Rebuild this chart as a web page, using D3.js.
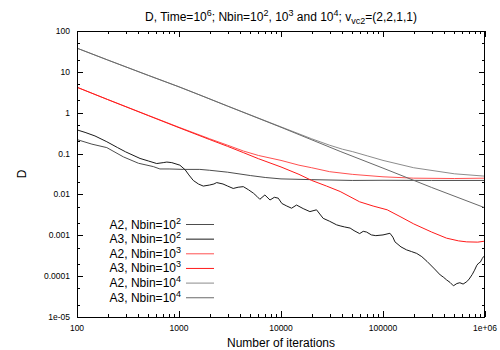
<!DOCTYPE html>
<html><head><meta charset="utf-8">
<script src="https://cdn.jsdelivr.net/npm/d3@7"></script>
<style>body{margin:0;background:#fff}svg{display:block}text{font-family:"Liberation Sans",Arial,sans-serif}</style>
</head><body><svg id="c" width="500" height="350"></svg>
<script>
// ---- data (iterations, D) ----
const xTickValues = [100, 1000, 10000, 100000, 1000000];
const xTickLabels = ["100", "1000", "10000", "100000", "1e+06"];
const yTickValues = [1e-5, 1e-4, 1e-3, 1e-2, 1e-1, 1, 10, 100];
const yTickLabels = ["1e-05", "0.0001", "0.001", "0.01", "0.1", "1", "10", "100"];

const a2n2 = [[100,0.22],[140,0.17],[196,0.14],[285,0.083],[400,0.058],[560,0.048],[650,0.042],[800,0.042],[1100,0.041],[1600,0.041],[2000,0.039],[3000,0.035],[5000,0.029],[7000,0.026],[10000,0.024],[20000,0.023],[50000,0.022],[100000,0.0222],[300000,0.022],[1000000,0.022]];
const a3n2 = [[100,0.38],[120,0.33],[150,0.27],[196,0.195],[250,0.14],[300,0.11],[415,0.076],[500,0.066],[605,0.057],[700,0.06],[760,0.062],[850,0.06],[1020,0.052],[1150,0.040],[1250,0.03],[1380,0.022],[1550,0.018],[1730,0.016],[2000,0.017],[2200,0.018],[2340,0.0195],[2700,0.018],[3000,0.016],[3400,0.014],[3800,0.015],[4270,0.0155],[4800,0.013],[5370,0.0107],[5800,0.009],[6200,0.0076],[6950,0.0097],[7800,0.0073],[8600,0.0085],[9400,0.0081],[10200,0.006],[11400,0.0052],[12700,0.0046],[14200,0.0055],[16500,0.0045],[19200,0.0038],[22300,0.0042],[25900,0.0026],[30000,0.0022],[35100,0.0018],[38000,0.0017],[42000,0.0016],[47600,0.0015],[52000,0.0013],[59000,0.0011],[64000,0.00125],[69000,0.0012],[77000,0.00102],[85000,0.00098],[100000,0.00102],[117000,0.00112],[125000,0.0009],[131000,0.00069],[150000,0.00052],[170000,0.00044],[190000,0.0004],[214000,0.00036],[240000,0.0003],[270000,0.00023],[320000,0.00015],[364000,0.000107],[390000,0.000095],[420000,0.000081],[455000,0.00007],[490000,0.000058],[530000,0.000066],[567000,0.000069],[610000,0.000064],[662000,0.000073],[700000,0.000085],[750000,0.00011],[790000,0.00014],[832000,0.000185],[870000,0.00021],[900000,0.00022],[940000,0.00027],[965000,0.0003],[1000000,0.00028]];
const a2n3 = [[100,4.2],[200,2.1],[500,0.86],[1000,0.44],[2000,0.23],[3000,0.16],[4300,0.115],[6000,0.09],[10000,0.068],[15000,0.052],[20000,0.045],[30000,0.036],[50000,0.031],[100000,0.027],[200000,0.025],[500000,0.0245],[1000000,0.025]];
const a3n3 = [[100,4.2],[200,2.1],[500,0.85],[1000,0.43],[2000,0.22],[3000,0.15],[4300,0.105],[6000,0.075],[10000,0.047],[15000,0.031],[20000,0.022],[28000,0.016],[38000,0.0118],[59000,0.0066],[80000,0.0052],[110000,0.0042],[150000,0.0028],[200000,0.0019],[300000,0.0012],[420000,0.00085],[550000,0.00073],[662000,0.00069],[850000,0.00068],[1000000,0.00072]];
const a2n4 = [[100,38],[200,19.5],[500,8.2],[1000,4.3],[1607,2.7],[3000,1.45],[10000,0.45],[20000,0.23],[30000,0.16],[40000,0.128],[50000,0.112],[70000,0.088],[100000,0.068],[200000,0.045],[500000,0.032],[1000000,0.028]];
const a3n4 = [[100,38],[200,19.5],[500,8.2],[1000,4.3],[1607,2.7],[3000,1.45],[10000,0.44],[38000,0.113],[100000,0.044],[300000,0.0148],[1000000,0.0047]];

const seriesNames = ["A2, Nbin=10|2", "A3, Nbin=10|2", "A2, Nbin=10|3", "A3, Nbin=10|3", "A2, Nbin=10|4", "A3, Nbin=10|4"];
const seriesData = [a2n2, a3n2, a2n3, a3n3, a2n4, a3n4];
const seriesColors = ["#4d4d4d", "#1a1a1a", "#ff5050", "#ff1a1a", "#8c8c8c", "#6a6a6a"];

// ---- layout ----
const L = 77, R = 485, T = 31, B = 317;
const svg = d3.select("#c");
const x = d3.scaleLog().domain([100, 1e6]).range([L, R]);
const y = d3.scaleLog().domain([1e-5, 100]).range([B, T]);

const xMinor = [];
for (let e = 2; e < 6; e++) for (let k = 2; k <= 9; k++) xMinor.push(k * Math.pow(10, e));
const yMinor = [];
for (let e = -5; e < 2; e++) for (const k of [2, 5]) yMinor.push(k * Math.pow(10, e));

const tickG = svg.append("g").attr("stroke", "#000").attr("stroke-width", 1).attr("shape-rendering", "crispEdges");
function xt(vals, len) {
  vals.forEach(v => {
    const px = Math.round(x(v)) + 0.5;
    tickG.append("line").attr("x1", px).attr("x2", px).attr("y1", B).attr("y2", B - len);
    tickG.append("line").attr("x1", px).attr("x2", px).attr("y1", T).attr("y2", T + len);
  });
}
function yt(vals, len) {
  vals.forEach(v => {
    const py = Math.round(y(v)) + 0.5;
    tickG.append("line").attr("x1", L).attr("x2", L + len).attr("y1", py).attr("y2", py);
    tickG.append("line").attr("x1", R).attr("x2", R - len).attr("y1", py).attr("y2", py);
  });
}
xt(xTickValues, 6); xt(xMinor, 3);
yt(yTickValues, 6); yt(yMinor, 3);

// tick labels
svg.append("g").selectAll("text").data(xTickValues).join("text")
  .attr("x", d => x(d)).attr("y", 331).attr("text-anchor", "middle")
  .attr("font-size", 8.5).text((d, i) => xTickLabels[i]);
svg.append("g").selectAll("text").data(yTickValues).join("text")
  .attr("x", 70).attr("y", d => y(d) + 3).attr("text-anchor", "end")
  .attr("font-size", 8.5).text((d, i) => yTickLabels[i]);

// lines
const line = d3.line().x(d => x(d[0])).y(d => y(d[1]));
const plotG = svg.append("g");
seriesData.forEach((s, i) => {
  plotG.append("path").attr("d", line(s)).attr("fill", "none")
    .attr("stroke", seriesColors[i]).attr("stroke-width", 1);
});

// frame
svg.append("rect").attr("x", L + 0.5).attr("y", T + 0.5).attr("width", R - L - 1).attr("height", B - T)
  .attr("fill", "none").attr("stroke", "#000").attr("stroke-width", 1);

// legend
const legG = svg.append("g");
seriesNames.forEach((nm, i) => {
  const yy = 224.5 + i * 14.65;
  const [base, sup] = nm.split("|");
  const t = legG.append("text").attr("x", 181).attr("y", yy + 4).attr("text-anchor", "end").attr("font-size", 12);
  t.append("tspan").text(base);
  t.append("tspan").attr("dy", -5).attr("font-size", 9).text(sup);
  legG.append("line").attr("x1", 186).attr("x2", 214).attr("y1", yy).attr("y2", yy)
    .attr("stroke", seriesColors[i]).attr("stroke-width", 1);
});

// title
const tt = svg.append("text").attr("x", (L + R) / 2).attr("y", 21).attr("text-anchor", "middle").attr("font-size", 12);
const parts = [["D, Time=10", 0], ["6", 1], ["; Nbin=10", 0], ["2", 1], [", 10", 0], ["3", 1], [" and 10", 0], ["4", 1], ["; v", 0], ["vc2", -1], ["=(2,2,1,1)", 0]];
let cur = 0;
parts.forEach(([s, k]) => {
  const target = k === 1 ? -5 : (k === -1 ? 3 : 0);
  const sp = tt.append("tspan").attr("dy", target - cur).text(s);
  if (k !== 0) sp.attr("font-size", 9);
  cur = target;
});

// axis titles
svg.append("text").attr("x", (L + R) / 2).attr("y", 347).attr("text-anchor", "middle").attr("font-size", 12).text("Number of iterations");
svg.append("text").attr("x", 26).attr("y", 174).attr("text-anchor", "middle").attr("font-size", 12)
  .attr("transform", "rotate(-90,26,174)").text("D");
</script></body></html>
